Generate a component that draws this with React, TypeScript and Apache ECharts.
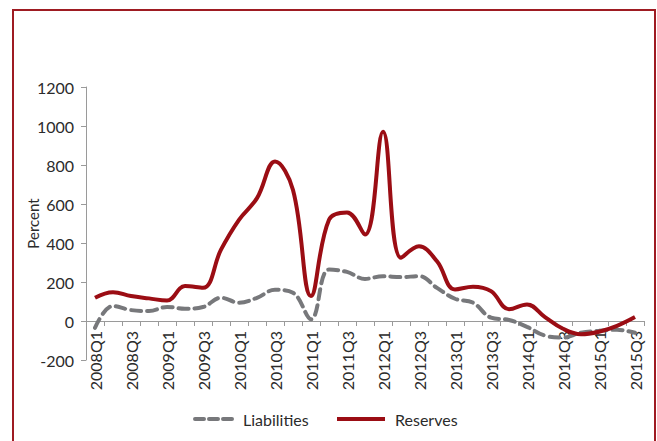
import React, { useEffect, useRef } from "react";
import * as echarts from "echarts";

const quarters: string[] = [
  "2008Q1", "2008Q2", "2008Q3", "2008Q4",
  "2009Q1", "2009Q2", "2009Q3", "2009Q4",
  "2010Q1", "2010Q2", "2010Q3", "2010Q4",
  "2011Q1", "2011Q2", "2011Q3", "2011Q4",
  "2012Q1", "2012Q2", "2012Q3", "2012Q4",
  "2013Q1", "2013Q2", "2013Q3", "2013Q4",
  "2014Q1", "2014Q2", "2014Q3", "2014Q4",
  "2015Q1", "2015Q2", "2015Q3",
];

const liabilities: number[] = [
  -35, 77, 56, 51, 72, 63, 72, 119, 94, 119, 160, 145, 9, 264, 252, 216,
  230, 225, 230, 170, 114, 94, 17, 5, -30, -75, -85, -60, -50, -45, -60,
];

const reserves: number[] = [
  119, 148, 128, 116, 105, 179, 170, 366, 519, 630, 818, 672, 128, 519, 557, 443,
  970, 324, 383, 306, 162, 176, 153, 60, 85, 20, -40, -68, -55, -25, 20,
];

const seriesNames: string[] = ["Liabilities", "Reserves"];

const yTicks = { min: -200, max: 1200, interval: 200 };

const FONT = "Lato, 'Open Sans', sans-serif";
const TEXT = "#2b2b2b";
const GRAY = "#77787b";
const RED = "#9b0d14";

export default function App() {
  const ref = useRef<HTMLDivElement>(null);

  useEffect(() => {
    if (!ref.current) return;
    const chart = echarts.init(ref.current, null, { renderer: "svg" });
    const legendY = 419;
    chart.setOption({
      animation: false,
      backgroundColor: "#ffffff",
      textStyle: { fontFamily: FONT, color: TEXT },
      graphic: [
        {
          type: "rect",
          shape: { x: 13, y: 10, width: 642, height: 440 },
          style: { fill: "none", stroke: "#9e1b22", lineWidth: 2 },
          z: 100,
        },
        {
          type: "line",
          shape: { x1: 195, y1: legendY, x2: 235, y2: legendY },
          style: { stroke: GRAY, lineWidth: 4, lineDash: [9, 5], lineCap: "round" },
        },
        {
          type: "text",
          x: 243,
          y: legendY,
          style: {
            text: seriesNames[0],
            font: `16px ${FONT}`,
            fill: TEXT,
            verticalAlign: "middle",
          },
        },
        {
          type: "line",
          shape: { x1: 337, y1: legendY, x2: 385, y2: legendY },
          style: { stroke: RED, lineWidth: 4 },
        },
        {
          type: "text",
          x: 395,
          y: legendY,
          style: {
            text: seriesNames[1],
            font: `16px ${FONT}`,
            fill: TEXT,
            verticalAlign: "middle",
          },
        },
      ],
      grid: { left: 86, right: 13, top: 87, bottom: 81, containLabel: false },
      xAxis: {
        type: "category",
        data: quarters,
        boundaryGap: true,
        axisLine: { onZero: true, lineStyle: { color: "#9a9a9a", width: 1 } },
        axisTick: { show: true, interval: 0, length: 5, lineStyle: { color: "#9a9a9a" } },
        axisLabel: {
          interval: 1,
          rotate: 90,
          margin: -29,
          fontFamily: FONT,
          fontSize: 16,
          color: TEXT,
        },
        splitLine: { show: false },
      },
      yAxis: {
        type: "value",
        min: yTicks.min,
        max: yTicks.max,
        interval: yTicks.interval,
        name: "Percent",
        nameLocation: "middle",
        nameGap: 46,
        nameRotate: 90,
        nameMoveOverlap: false,
        nameTextStyle: { fontFamily: FONT, fontSize: 15, color: TEXT },
        axisLine: { show: true, lineStyle: { color: "#9a9a9a", width: 1 } },
        axisTick: { show: true, length: 5, lineStyle: { color: "#9a9a9a" } },
        axisLabel: {
          margin: 12,
          fontFamily: FONT,
          fontSize: 16,
          color: TEXT,
          formatter: (v: number) => String(v),
        },
        splitLine: { show: false },
      },
      series: [
        {
          name: seriesNames[0],
          type: "line",
          data: liabilities,
          smooth: 0.4,
          symbol: "none",
          lineStyle: { color: GRAY, width: 4, type: [10, 6], cap: "round" },
          itemStyle: { color: GRAY },
          z: 2,
        },
        {
          name: seriesNames[1],
          type: "line",
          data: reserves,
          smooth: 0.4,
          symbol: "none",
          lineStyle: { color: RED, width: 4 },
          itemStyle: { color: RED },
          z: 3,
        },
      ],
    });
    return () => chart.dispose();
  }, []);

  return (
    <div
      ref={ref}
      style={{ position: "absolute", left: 0, top: 0, width: 657, height: 441 }}
    />
  );
}
